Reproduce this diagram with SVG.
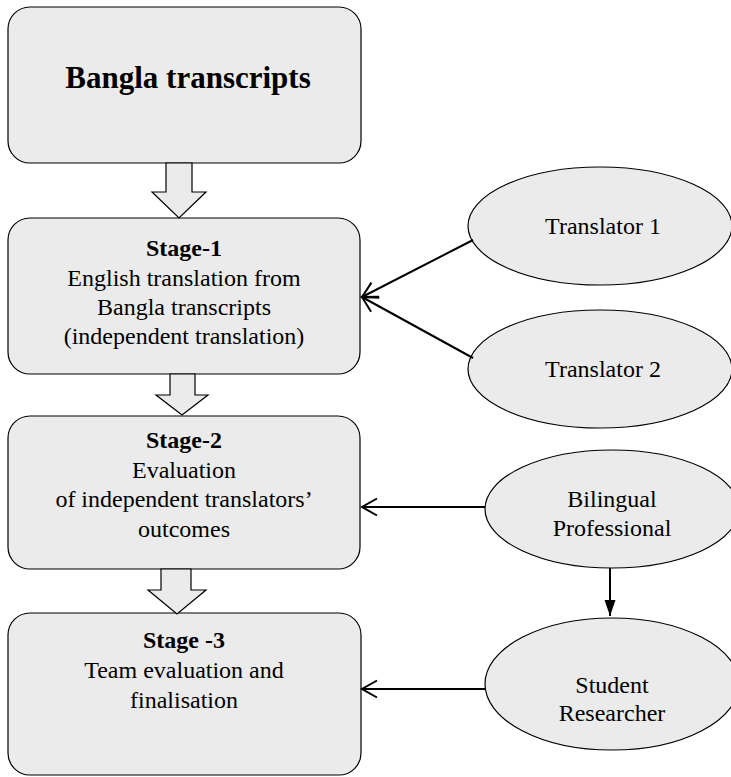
<svg xmlns="http://www.w3.org/2000/svg" width="731" height="777" viewBox="0 0 731 777">
  <style>
    .box { fill: #ebebeb; stroke: #000; stroke-width: 1.2; }
    .blk { fill: #ebebeb; stroke: #000; stroke-width: 1.2; stroke-linejoin: miter; }
    .ell { fill: #ebebeb; stroke: #000; stroke-width: 1.2; }
    text { font-family: "Liberation Serif", "Times New Roman", serif; fill: #000; text-anchor: middle; }
    .title { font-size: 31px; font-weight: bold; }
    .head { font-size: 24px; font-weight: bold; }
    .body { font-size: 24px; }
    .link { fill: none; stroke: #000; stroke-width: 2; }
  </style>
  <defs>
    <marker id="open" markerUnits="userSpaceOnUse" markerWidth="24" markerHeight="24" viewBox="-20 -12 24 24" refX="0" refY="0" orient="auto">
      <path d="M-15,-8.5 L0,0 L-15,8.5" fill="none" stroke="#000" stroke-width="2"/>
    </marker>
    <marker id="solid" markerUnits="userSpaceOnUse" markerWidth="20" markerHeight="20" viewBox="-18 -10 20 20" refX="0" refY="0" orient="auto">
      <path d="M-16,-5.5 L0,0 L-16,5.5 Z" fill="#000"/>
    </marker>
  </defs>

  <!-- process boxes -->
  <g id="bangla-transcripts">
    <rect class="box" x="8" y="7" width="353" height="156" rx="22"/>
    <text class="title" x="188" y="88">Bangla transcripts</text>
  </g>
  <g id="stage-1">
    <rect class="box" x="8" y="218" width="352" height="156" rx="22"/>
    <text class="head" x="184" y="256">Stage-1</text>
    <text class="body" x="184" y="286">English translation from</text>
    <text class="body" x="184" y="315">Bangla transcripts</text>
    <text class="body" x="184" y="344">(independent translation)</text>
  </g>
  <g id="stage-2">
    <rect class="box" x="8" y="416" width="352" height="153" rx="22"/>
    <text class="head" x="184" y="448">Stage-2</text>
    <text class="body" x="184" y="478">Evaluation</text>
    <text class="body" x="184" y="507">of independent translators’</text>
    <text class="body" x="184" y="537">outcomes</text>
  </g>
  <g id="stage-3">
    <rect class="box" x="8" y="613" width="353" height="162" rx="22"/>
    <text class="head" x="184" y="648">Stage -3</text>
    <text class="body" x="184" y="678">Team evaluation and</text>
    <text class="body" x="184" y="708">finalisation</text>
  </g>

  <!-- contributors -->
  <g id="translator-1">
    <ellipse class="ell" cx="600" cy="226" rx="132" ry="59"/>
    <text class="body" x="603" y="234">Translator 1</text>
  </g>
  <g id="translator-2">
    <ellipse class="ell" cx="600" cy="369" rx="132" ry="59"/>
    <text class="body" x="603" y="377">Translator 2</text>
  </g>
  <g id="bilingual-professional">
    <ellipse class="ell" cx="612" cy="509" rx="127" ry="59"/>
    <text class="body" x="612" y="507">Bilingual</text>
    <text class="body" x="612" y="536">Professional</text>
  </g>
  <g id="student-researcher">
    <ellipse class="ell" cx="612" cy="684" rx="127" ry="66"/>
    <text class="body" x="612" y="693">Student</text>
    <text class="body" x="612" y="721">Researcher</text>
  </g>

  <!-- connectors -->
  <g id="connectors">
    <!-- block arrows between stages -->
    <path class="blk" d="M166,163 L192,163 L192,192 L206,192 L179,218 L152,192 L166,192 Z"/>
    <path class="blk" d="M170,374 L195,374 L195,395 L208,395 L182,415 L156,395 L170,395 Z"/>
    <path class="blk" d="M161,569 L191,569 L191,590 L206,590 L177,614 L148,590 L161,590 Z"/>
    <!-- contributor links -->
    <line class="link" x1="473" y1="240" x2="362" y2="297" marker-end="url(#open)"/>
    <line class="link" x1="473" y1="358" x2="362" y2="297" marker-end="url(#open)"/>
    <line class="link" x1="485" y1="507" x2="362" y2="507" marker-end="url(#open)"/>
    <line class="link" x1="610" y1="568" x2="610" y2="616" marker-end="url(#solid)"/>
    <line class="link" x1="486" y1="689" x2="362" y2="689" marker-end="url(#open)"/>
  </g>
</svg>
